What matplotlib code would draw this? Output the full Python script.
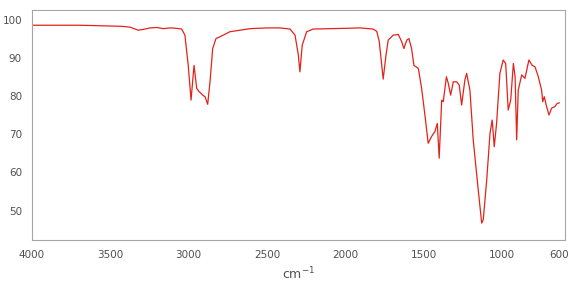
import matplotlib.pyplot as plt
import matplotlib.transforms as mtransforms

# IR spectrum
wavenumber = [3992, 3900, 3820, 3700, 3600, 3501, 3420, 3373, 3340, 3322, 3290, 3246,
              3200, 3160, 3118, 3080, 3044, 3023, 3002, 2984, 2965, 2948, 2933, 2923,
              2910, 2895, 2878, 2863, 2846, 2825, 2789, 2736, 2672, 2608, 2500, 2417,
              2353, 2321, 2300, 2290, 2275, 2247, 2205, 2098, 1992, 1907, 1824, 1800,
              1784, 1759, 1741, 1727, 1695, 1663, 1641, 1627, 1609, 1595, 1578, 1563,
              1535, 1514, 1493, 1472, 1450, 1429, 1414, 1402, 1386, 1376, 1356, 1344,
              1329, 1312, 1291, 1274, 1259, 1238, 1227, 1206, 1185, 1153, 1131, 1121,
              1099, 1078, 1064, 1051, 1036, 1015, 994, 978, 962, 946, 929, 918, 908,
              898, 876, 855, 830, 809, 791, 770, 749, 742, 732, 717, 702, 685, 664,
              653, 637]
transmittance = [98.5, 98.5, 98.5, 98.5, 98.4, 98.3, 98.2, 98.0, 97.5, 97.2, 97.4, 97.8,
                 97.9, 97.6, 97.8, 97.7, 97.5, 95.9, 88.0, 78.9, 88.0, 82.0, 81.1, 80.8,
                 80.2, 79.8, 77.8, 83.7, 92.4, 95.0, 95.7, 96.8, 97.2, 97.6, 97.8, 97.8,
                 97.5, 95.9, 90.7, 86.3, 93.3, 96.8, 97.5, 97.6, 97.7, 97.8, 97.5, 96.9,
                 94.2, 84.4, 90.7, 94.6, 95.9, 96.1, 94.2, 92.4, 94.6, 95.0, 92.4, 88.0,
                 87.2, 82.0, 75.0, 67.6, 69.4, 70.7, 72.8, 63.7, 78.9, 78.5, 85.0, 83.3,
                 80.2, 83.7, 83.7, 82.8, 77.6, 84.2, 85.9, 81.5, 68.5, 55.4, 46.7, 47.6,
                 58.0, 70.2, 73.7, 66.7, 72.8, 85.9, 89.4, 88.5, 76.3, 78.9, 88.5, 85.0,
                 68.5, 81.5, 85.5, 84.6, 89.4, 88.0, 87.6, 85.0, 81.5, 78.5, 79.8, 77.2,
                 75.0, 76.8, 77.2, 77.9, 78.2]

xticks = [4000, 3500, 3000, 2500, 2000, 1500, 1000, 600]
yticks = [50, 60, 70, 80, 90, 100]

fig = plt.figure(figsize=(5.73, 2.87), dpi=100)
ax = fig.add_axes([0.0553, 0.164, 0.9307, 0.800])
ax.plot(wavenumber, transmittance, color='#e2231a', linewidth=0.9)

ax.set_xlim(4000, 600)
ax.set_ylim(42.3, 102.4)
ax.set_xticks(xticks)
ax.set_xticklabels([str(t) for t in xticks])
ax.set_yticks(yticks)
ax.tick_params(length=0, labelsize=7.5, colors='#505050', pad=7)
for s in ax.spines.values():
    s.set_color('#a6a6a6')
    s.set_linewidth(0.8)
ax.set_xlabel('cm$^{-1}$', fontsize=9, color='#505050', labelpad=4)

# nudge the last x label so it stays inside the picture
last = ax.get_xticklabels()[-1]
last.set_transform(last.get_transform() + mtransforms.ScaledTranslation(-4 / 72, 0, fig.dpi_scale_trans))

fig.savefig('out.png', dpi=100)
